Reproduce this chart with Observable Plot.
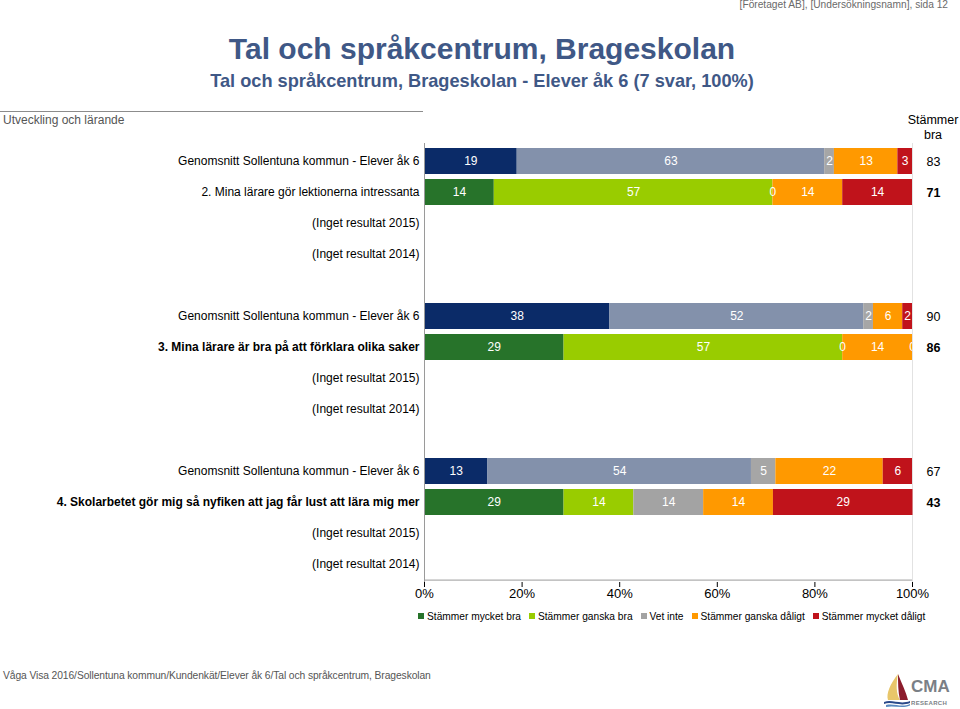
<!DOCTYPE html>
<html>
<head>
<meta charset="utf-8">
<script src="https://cdn.jsdelivr.net/npm/d3@7"></script>
<script src="https://cdn.jsdelivr.net/npm/@observablehq/plot@0.6"></script>
<style>
  html, body { margin: 0; padding: 0; background: #fff; }
  body { font-family: "Liberation Sans", Arial, sans-serif; }
  #page { position: relative; width: 960px; height: 709px; overflow: hidden; }
  #chart { position: absolute; left: 0; top: 0; }
  .abs { position: absolute; white-space: nowrap; }
  #hdr { right: 12px; top: -1px; font-size: 10.2px; color: #6a6a6a; }
  #title { left: 0; width: 964px; top: 32px; text-align: center; font-size: 30px; font-weight: bold; color: #3f5886; }
  #subtitle { left: 0; width: 964px; top: 71px; text-align: center; font-size: 18.2px; font-weight: bold; color: #3f5886; }
  #secline { left: 0; top: 111px; width: 423px; height: 1px; background: #8c8c8c; }
  #section { left: 3px; top: 113px; font-size: 12px; color: #555; }
  #agreeHdr { left: 903px; width: 60px; top: 113px; text-align: center; font-size: 12.5px; line-height: 15px; color: #000; }
  #legend { left: 418px; top: 611px; font-size: 10.2px; color: #000; display: flex; gap: 8px; }
  #legend span.sw { display: inline-block; width: 6px; height: 6px; margin-right: 3px; vertical-align: 1px; }
  #footer { left: 3px; top: 670px; font-size: 10.3px; color: #555; letter-spacing: -0.1px; }
  #logo { left: 880px; top: 672px; }
</style>
</head>
<body>
<div id="page">
  <div id="chart"></div>
  <div class="abs" id="hdr"></div>
  <div class="abs" id="title"></div>
  <div class="abs" id="subtitle"></div>
  <div class="abs" id="secline"></div>
  <div class="abs" id="section"></div>
  <div class="abs" id="agreeHdr"></div>
  <div class="abs" id="legend"></div>
  <div class="abs" id="footer"></div>
  <div class="abs" id="logo">
    <svg width="80" height="37" viewBox="0 0 80 37">
      <path d="M18 2 C 10 12, 6 22, 8 28 L 20 28 C 16 22, 16 12, 18 2 Z" fill="#e8c66a"/>
      <path d="M18 2 C 22 12, 26 20, 28 28 L 20 28 C 18 20, 18 10, 18 2 Z" fill="#8c1c2c"/>
      <path d="M4 30 C 12 27, 20 33, 30 29 L 30 31 C 20 35, 12 29, 4 32 Z" fill="#2a4a8a"/>
      <path d="M6 33 C 14 31, 22 36, 30 32 L 30 33.5 C 22 37, 14 33, 6 35 Z" fill="#5a8ac0"/>
      <text x="31" y="20" font-family="Liberation Sans, Arial, sans-serif" font-weight="bold" font-size="17" fill="#7b7f86">CMA</text>
      <text x="31" y="33" font-family="Liberation Sans, Arial, sans-serif" font-weight="bold" font-size="6" fill="#7b7f86" letter-spacing="0.3">RESEARCH</text>
    </svg>
  </div>
</div>
<script>
// ---------- data ----------
const headerText = "[Företaget AB], [Undersökningsnamn], sida 12";
const titleText = "Tal och språkcentrum, Brageskolan";
const subtitleText = "Tal och språkcentrum, Brageskolan - Elever åk 6 (7 svar, 100%)";
const sectionText = "Utveckling och lärande";
const agreeHeader = ["Stämmer", "bra"];
const footerText = "Våga Visa 2016/Sollentuna kommun/Kundenkät/Elever åk 6/Tal och språkcentrum, Brageskolan";

const questions = [
  "2. Mina lärare gör lektionerna intressanta",
  "3. Mina lärare är bra på att förklara olika saker",
  "4. Skolarbetet gör mig så nyfiken att jag får lust att lära mig mer"
];
const avgLabel = "Genomsnitt Sollentuna kommun - Elever åk 6";
const noResultLabels = ["(Inget resultat 2015)", "(Inget resultat 2014)"];
const categories = ["Stämmer mycket bra", "Stämmer ganska bra", "Vet inte", "Stämmer ganska dåligt", "Stämmer mycket dåligt"];

// percent per category, per question
const avgValues = [
  [19, 63, 2, 13, 3],
  [38, 52, 2, 6, 2],
  [13, 54, 5, 22, 6]
];
const schoolValues = [
  [14.3, 57.1, 0, 14.3, 14.3],
  [28.6, 57.1, 0, 14.3, 0],
  [28.6, 14.3, 14.3, 14.3, 28.6]
];
const avgAgree = [83, 90, 67];
const schoolAgree = [71, 86, 43];
const xTicks = [0, 20, 40, 60, 80, 100];

// ---------- styles ----------
const avgColors = ["#0b2b68", "#8391ab", "#a6a6a6", "#ff9900", "#c0131b"];
const schoolColors = ["#27732a", "#99cc00", "#a3a3a3", "#ff9900", "#c0131b"];
const boldQuestion = [false, true, true];
const font = "'Liberation Sans', Arial, sans-serif";

// ---------- build rows ----------
const yKeys = [];
const rowLabels = [];
questions.forEach((q, g) => {
  if (g > 0) yKeys.push("sp" + g);
  yKeys.push("avg" + g); rowLabels.push({row: "avg" + g, t: avgLabel, bold: false});
  yKeys.push("q" + g); rowLabels.push({row: "q" + g, t: q, bold: boldQuestion[g]});
  noResultLabels.forEach((t, i) => { const k = "n" + i + "_" + g; yKeys.push(k); rowLabels.push({row: k, t, bold: false}); });
});

const segments = [];
questions.forEach((q, g) => {
  categories.forEach((c, ci) => segments.push({row: "avg" + g, kind: "avg", ci, cat: c, value: avgValues[g][ci]}));
  categories.forEach((c, ci) => segments.push({row: "q" + g, kind: "q", ci, cat: c, value: schoolValues[g][ci]}));
});
const avgTotals = avgAgree.map((v, g) => ({row: "avg" + g, v}));
const schoolTotals = schoolAgree.map((v, g) => ({row: "q" + g, v}));
const fillOf = d => (d.kind === "avg" ? avgColors : schoolColors)[d.ci];

// ---------- plot ----------
const chart = Plot.plot({
  width: 960,
  height: 709,
  marginLeft: 424,
  marginRight: 48,
  marginTop: 143,
  marginBottom: 127,
  style: {fontFamily: font, fontSize: "13px", color: "#000", background: "transparent"},
  x: {domain: [0, 100], ticks: xTicks, tickFormat: d => d + "%", tickSize: 5, tickPadding: 1, label: null},
  y: {domain: yKeys, paddingInner: 0.17, paddingOuter: 0.085, axis: null},
  marks: [
    Plot.ruleX([100], {stroke: "#e2e2e2"}),
    Plot.barX(segments, Plot.stackX({x: "value", y: "row", fill: fillOf})),
    Plot.text(segments, Plot.stackX({x: "value", y: "row", text: d => String(Math.round(d.value)), fill: "#fff", fontSize: 12, clip: true})),
    Plot.text(rowLabels.filter(d => !d.bold), {x: 0, y: "row", text: "t", dx: -5, textAnchor: "end", fontSize: 12, fill: "#000"}),
    Plot.text(rowLabels.filter(d => d.bold), {x: 0, y: "row", text: "t", dx: -5, textAnchor: "end", fontSize: 12, fontWeight: "bold", fill: "#000"}),
    Plot.text(avgTotals, {x: 100, y: "row", text: d => String(d.v), dx: 21, fontSize: 12.5, fill: "#000"}),
    Plot.text(schoolTotals, {x: 100, y: "row", text: d => String(d.v), dx: 21, fontSize: 12.5, fontWeight: "bold", fill: "#000"}),
    Plot.ruleX([0], {stroke: "#9a9a9a"}),
    Plot.ruleY([yKeys[yKeys.length - 1]], {x1: 0, x2: 100, dy: 15.6, stroke: "#9a9a9a"})
  ]
});
document.getElementById("chart").appendChild(chart);

// ---------- texts ----------
document.getElementById("hdr").textContent = headerText;
document.getElementById("title").textContent = titleText;
document.getElementById("subtitle").textContent = subtitleText;
document.getElementById("section").textContent = sectionText;
document.getElementById("agreeHdr").innerHTML = agreeHeader.join("<br>");
document.getElementById("footer").textContent = footerText;
const legend = document.getElementById("legend");
categories.forEach((c, i) => {
  const item = document.createElement("span");
  const sw = document.createElement("span");
  sw.className = "sw";
  sw.style.background = schoolColors[i];
  item.appendChild(sw);
  item.appendChild(document.createTextNode(c));
  legend.appendChild(item);
});
</script>
</body>
</html>
